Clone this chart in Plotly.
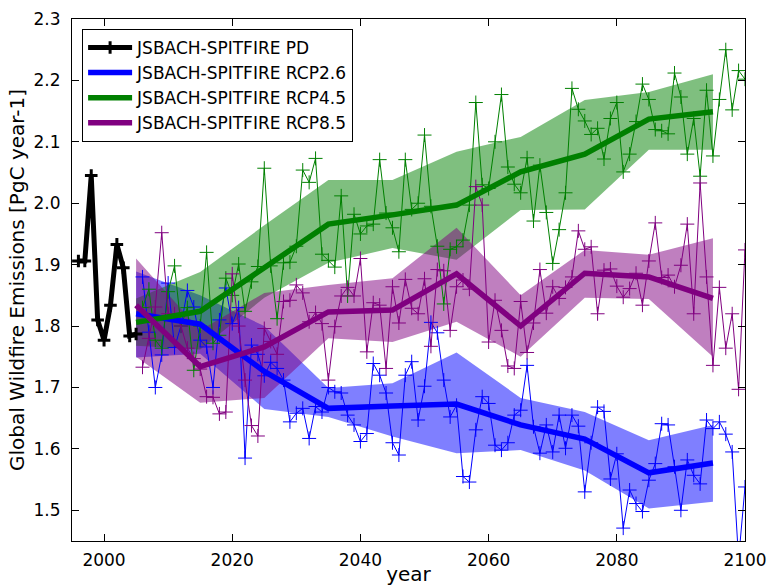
import plotly.graph_objects as go

# ---------------- data ----------------
pd_years = list(range(1996, 2006))
pd_vals = [1.906, 1.906, 2.045, 1.810, 1.777, 1.834, 1.933, 1.895, 1.784, 1.787]

rcp_years = list(range(2006, 2101))

rcp26 = [1.880, 1.790, 1.700, 1.753, 1.870, 1.765, 1.800, 1.858, 1.831, 1.777,
         1.766, 1.700, 1.810, 1.862, 1.804, 1.830, 1.585, 1.769, 1.754, 1.719,
         1.741, 1.731, 1.712, 1.644, 1.658, 1.666, 1.617, 1.669, 1.660, 1.700,
         1.693, 1.691, 1.655, 1.639, 1.612, 1.625, 1.739, 1.720, 1.691, 1.610,
         1.590, 1.720, 1.742, 1.647, 1.702, 1.806, 1.789, 1.712, 1.652, 1.671,
         1.555, 1.546, 1.631, 1.685, 1.674, 1.606, 1.598, 1.610, 1.655, 1.663,
         1.736, 1.636, 1.593, 1.639, 1.595, 1.655, 1.601, 1.655, 1.637, 1.530,
         1.610, 1.668, 1.661, 1.551, 1.592, 1.471, 1.533, 1.511, 1.498, 1.549,
         1.576, 1.641, 1.639, 1.571, 1.500, 1.582, 1.557, 1.543, 1.647, 1.633,
         1.644, 1.624, 1.595, 1.420, 1.538]

rcp45 = [1.830, 1.860, 1.777, 1.764, 1.856, 1.898, 1.800, 1.830, 1.728, 1.800,
         1.920, 1.772, 1.785, 1.878, 1.850, 1.901, 1.824, 1.872, 1.897, 2.057,
         1.898, 1.812, 1.903, 1.904, 1.930, 2.054, 2.034, 2.073, 1.917, 1.907,
         1.896, 2.012, 1.849, 1.982, 1.950, 1.963, 1.966, 2.071, 1.984, 1.960,
         1.921, 2.071, 1.990, 2.000, 2.111, 1.995, 1.930, 1.836, 1.925, 1.929,
         1.940, 1.997, 2.164, 2.030, 2.024, 2.100, 2.177, 2.059, 2.031, 2.017,
         2.074, 1.971, 2.062, 1.985, 1.902, 1.957, 2.017, 2.187, 2.153, 2.134,
         2.112, 2.122, 2.072, 2.138, 2.164, 2.051, 2.080, 2.133, 2.194, 2.169,
         2.120, 2.118, 2.113, 2.212, 2.173, 2.080, 2.138, 2.044, 2.184, 2.077,
         2.169, 2.250, 2.152, 2.216, 2.202]

rcp85 = [1.733, 1.780, 1.831, 1.952, 1.820, 1.820, 1.800, 1.764, 1.747, 1.730,
         1.685, 1.684, 1.657, 1.660, 1.885, 1.800, 1.712, 1.638, 1.621, 1.796,
         1.775, 1.754, 1.840, 1.842, 1.867, 1.854, 1.807, 1.822, 1.804, 1.712,
         1.799, 1.849, 1.863, 1.849, 1.910, 1.758, 1.838, 1.834, 1.731, 1.864,
         1.805, 1.876, 1.829, 1.820, 1.877, 1.767, 1.892, 1.890, 1.793, 1.864,
         1.875, 1.860, 2.027, 1.997, 1.774, 1.842, 1.793, 1.735, 1.731, 1.840,
         1.757, 1.805, 1.892, 1.821, 1.864, 1.845, 1.863, 1.880, 1.955, 1.925,
         1.929, 1.820, 1.891, 1.893, 1.865, 1.847, 1.861, 1.886, 1.834, 1.906,
         1.968, 1.879, 1.883, 1.864, 1.899, 1.966, 1.820, 2.033, 1.880, 1.736,
         1.863, 1.764, 1.820, 1.697, 1.924]

dec_years = [2005, 2015, 2025, 2035, 2045, 2055, 2065, 2075, 2085, 2095]

rcp26_mean = [1.820, 1.803, 1.726, 1.666, 1.670, 1.673, 1.639, 1.616, 1.561, 1.577]
rcp26_hi = [1.889, 1.850, 1.800, 1.699, 1.707, 1.757, 1.683, 1.660, 1.614, 1.639]
rcp26_lo = [1.749, 1.755, 1.665, 1.652, 1.620, 1.593, 1.598, 1.565, 1.503, 1.514]

rcp45_mean = [1.806, 1.824, 1.895, 1.966, 1.981, 1.997, 2.051, 2.080, 2.137, 2.149]
rcp45_hi = [1.845, 1.888, 1.964, 2.038, 2.038, 2.084, 2.108, 2.168, 2.181, 2.210]
rcp45_lo = [1.768, 1.762, 1.846, 1.903, 1.927, 1.908, 1.989, 1.990, 2.087, 2.087]

rcp85_mean = [1.834, 1.734, 1.766, 1.823, 1.826, 1.885, 1.800, 1.886, 1.880, 1.845]
rcp85_hi = [1.910, 1.793, 1.854, 1.867, 1.878, 1.960, 1.850, 1.924, 1.916, 1.943]
rcp85_lo = [1.750, 1.675, 1.683, 1.780, 1.774, 1.807, 1.750, 1.846, 1.844, 1.750]

names = ["JSBACH-SPITFIRE RCP2.6", "JSBACH-SPITFIRE RCP4.5", "JSBACH-SPITFIRE RCP8.5"]
colors = ["#0000ff", "#008000", "#800080"]
fills = ["rgba(0,0,255,0.5)", "rgba(0,128,0,0.5)", "rgba(128,0,128,0.5)"]

yearly = [rcp26, rcp45, rcp85]
means = [rcp26_mean, rcp45_mean, rcp85_mean]
his = [rcp26_hi, rcp45_hi, rcp85_hi]
los = [rcp26_lo, rcp45_lo, rcp85_lo]

fig = go.Figure()

# bands
for i in range(3):
    fig.add_trace(go.Scatter(
        x=dec_years + dec_years[::-1],
        y=his[i] + los[i][::-1],
        fill="toself", fillcolor=fills[i], line=dict(width=0),
        mode="lines", showlegend=False, hoverinfo="skip"))

# thin yearly lines
for i in range(3):
    fig.add_trace(go.Scatter(
        x=rcp_years, y=yearly[i], mode="lines+markers",
        line=dict(color=colors[i], width=1),
        marker=dict(symbol="cross-thin", size=10,
                    line=dict(color=colors[i], width=1)),
        showlegend=False, hoverinfo="skip"))

# PD
fig.add_trace(go.Scatter(
    x=pd_years, y=pd_vals, mode="lines+markers", name="JSBACH-SPITFIRE PD",
    line=dict(color="black", width=5),
    marker=dict(symbol="cross-thin", size=9, line=dict(color="black", width=3))))

# thick decadal means
for i in range(3):
    fig.add_trace(go.Scatter(
        x=dec_years, y=means[i], mode="lines", name=names[i],
        line=dict(color=colors[i], width=5.5)))

font_family = "DejaVu Sans"
fig.update_layout(
    width=771, height=586,
    margin=dict(l=72, r=26, t=19, b=45),
    paper_bgcolor="white", plot_bgcolor="white",
    font=dict(family=font_family, size=17, color="black"),
    legend=dict(x=0.015, y=0.981, xanchor="left", yanchor="top",
                bgcolor="white", bordercolor="black", borderwidth=1,
                font=dict(size=17), tracegroupgap=0, itemwidth=44),
    hovermode=False,
)
fig.update_xaxes(
    range=[1995, 2100], tickvals=[2000, 2020, 2040, 2060, 2080, 2100],
    ticks="inside", ticklen=7, tickwidth=1, tickcolor="black",
    showline=True, linecolor="black", linewidth=1, mirror="ticks",
    showgrid=False, zeroline=False, automargin=False,
    title=dict(text="year", standoff=9),
    ticklabelstandoff=4,
)
fig.update_yaxes(
    range=[1.45, 2.3], tickvals=[1.5, 1.6, 1.7, 1.8, 1.9, 2.0, 2.1, 2.2, 2.3],
    tickformat=".1f",
    ticks="inside", ticklen=7, tickwidth=1, tickcolor="black",
    showline=True, linecolor="black", linewidth=1, mirror="ticks",
    showgrid=False, zeroline=False, automargin=False,
    title=dict(text="Global Wildfire Emissions [PgC year-1]", standoff=3),
    ticklabelstandoff=7,
)

fig.write_html("out.html")
